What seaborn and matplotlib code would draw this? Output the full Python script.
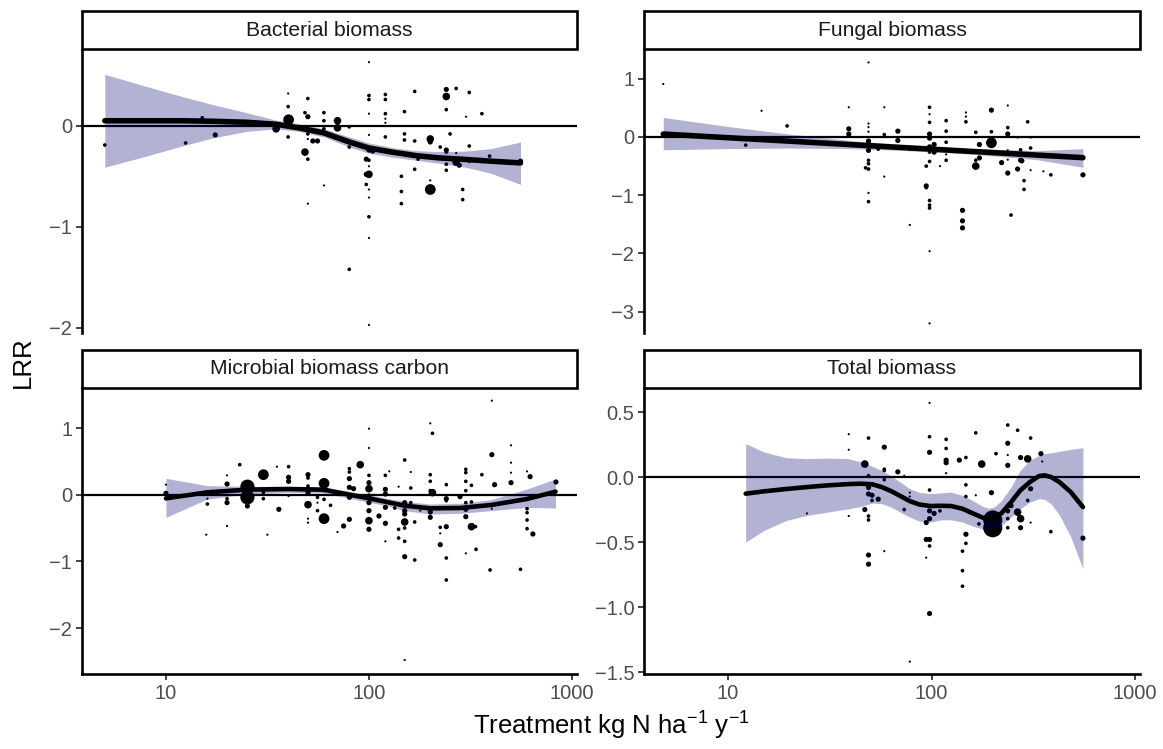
import matplotlib
matplotlib.use("Agg")
import matplotlib.pyplot as plt
from matplotlib.patches import Rectangle
from matplotlib.ticker import FixedLocator, NullLocator
import seaborn as sns
import pandas as pd

sns.set_style("white")
plt.rcParams['font.family'] = ['Liberation Sans', 'DejaVu Sans']
plt.rcParams['mathtext.fontset'] = 'custom'
plt.rcParams['mathtext.rm'] = 'Liberation Sans'
plt.rcParams['mathtext.it'] = 'Liberation Sans:italic'

# ---------------- data ----------------
panel_titles = ["Bacterial biomass", "Fungal biomass", "Microbial biomass carbon", "Total biomass"]
x_ticks = [10, 100, 1000]
x_tick_labels = ["10", "100", "1000"]

# Bacterial biomass
bact_x = [5.0, 12.5, 15.1, 17.5, 34.9, 40.2, 40, 40, 40, 48.4,
          50, 50, 48.4, 50, 50, 50, 52.9, 55.8, 60, 60,
          60, 60, 50, 70, 70, 80, 80, 80, 100, 100,
          100, 100, 100, 100, 104.4, 97, 100, 100, 100, 97,
          97, 100, 100, 100, 100, 100, 120.5, 120.5, 120.5, 120.5,
          120.5, 120.5, 144.5, 144.5, 144.5, 149.6, 149.6, 149.6, 168, 168,
          168, 174.5, 200.5, 200.5, 200.5, 200.5, 224.5, 240.5, 240.5, 240.5,
          240.5, 240.5, 240.5, 240.5, 251, 269, 269, 269, 278.6, 289.6,
          289.6, 301, 312, 312, 312, 360, 393, 558]
bact_y = [-0.19, -0.17, 0.08, -0.09, -0.03, 0.06, 0.32, 0.19, -0.11, 0.13,
          0.27, 0.09, -0.26, -0.33, -0.08, -0.13, -0.15, -0.15, 0.13, 0.05,
          -0.03, -0.59, -0.77, 0.05, -0.02, -0.01, -0.21, -1.42, 0.63, 0.30,
          0.26, 0.12, -0.09, -0.24, -0.25, -0.33, -0.34, -0.40, -0.48, -0.48,
          -0.58, -0.63, -0.71, -0.90, -1.11, -1.97, 0.31, 0.26, 0.12, 0.07,
          0.03, -0.11, -0.50, -0.65, -0.77, 0.14, -0.08, -0.14, 0.34, -0.15,
          -0.43, -0.33, -0.13, -0.16, -0.54, -0.63, -0.21, 0.36, 0.29, 0.16,
          -0.24, -0.26, -0.38, -0.44, -0.08, 0.37, -0.27, -0.36, -0.39, -0.63,
          -0.73, 0.09, 0.33, -0.20, -0.36, 0.12, -0.30, -0.35]
bact_w = [2, 2, 2, 3, 4, 5, 1, 2, 2, 2,
          2, 3, 4, 2, 2, 1, 3, 3, 2, 2,
          2, 1, 1, 4, 4, 2, 2, 2, 1, 2,
          2, 1, 1, 3, 3, 3, 2, 1, 4, 3,
          2, 1, 1, 2, 1, 1, 2, 2, 2, 1,
          1, 2, 2, 2, 2, 2, 2, 2, 2, 2,
          2, 2, 4, 3, 1, 5, 2, 3, 4, 2,
          3, 2, 2, 2, 2, 2, 1, 4, 3, 2,
          2, 1, 2, 2, 1, 2, 2, 3]
bact_fit_x = [5, 8, 12, 17, 25, 35, 45, 60, 80, 100, 130, 170, 220, 300, 400, 558]
bact_fit = [0.05, 0.05, 0.05, 0.045, 0.035, 0.015, -0.02, -0.07, -0.16, -0.22,
            -0.26, -0.295, -0.317, -0.333, -0.35, -0.367]
bact_hi = [0.51, 0.39, 0.29, 0.21, 0.13, 0.055, 0.02, -0.03, -0.11, -0.17,
           -0.215, -0.245, -0.255, -0.25, -0.225, -0.16]
bact_lo = [-0.41, -0.30, -0.20, -0.12, -0.055, -0.03, -0.055, -0.11, -0.21, -0.27,
           -0.31, -0.34, -0.37, -0.41, -0.47, -0.58]

# Fungal biomass
fung_x = [4.8, 12.2, 14.6, 17.0, 19.5, 39.2, 39.2, 39.2, 49, 49,
          49, 49, 49, 49, 49, 49, 47.4, 49, 49, 49,
          54.7, 58.6, 58.6, 58.6, 68.3, 68.3, 78.2, 78.2, 94.2, 94.2,
          94.2, 97.8, 97.8, 97.8, 97.8, 97.8, 97.8, 97.8, 97.8, 97.8,
          97.8, 97.8, 97.8, 97.8, 103, 103, 110, 118, 118, 118,
          118, 118, 142, 142, 142, 147.6, 147.6, 147.6, 165, 165,
          165, 172, 172, 197, 197, 197, 221, 237, 237, 237,
          237, 237, 237, 246, 265, 265, 274, 274, 278, 285,
          285, 297, 307, 307, 307, 355, 386, 555]
fung_y = [0.91, -0.14, 0.45, -0.06, 0.19, 0.51, 0.14, 0.05, 1.28, 0.23,
          0.17, 0.09, -0.07, -0.23, -0.40, -0.46, -0.53, -0.55, -0.96, -1.11,
          -0.21, 0.51, 0.04, -0.68, 0.10, -0.06, -0.22, -1.51, -0.50, -0.84,
          -0.87, 0.51, 0.39, 0.25, 0.05, -0.02, -0.17, -0.26, -0.42, -1.09,
          -1.17, -1.22, -1.96, -3.20, -0.13, -0.26, -0.50, 0.28, 0.10, -0.09,
          -0.30, -0.40, -1.26, -1.44, -1.56, 0.42, 0.35, 0.26, 0.08, -0.40,
          -0.50, -0.13, -0.36, 0.46, 0.09, -0.10, -0.44, 0.54, 0.16, 0.05,
          -0.23, -0.39, -0.62, -1.34, -0.01, -0.55, -0.22, -0.40, -0.41, -0.75,
          -0.90, 0.26, -0.01, -0.19, -0.57, -0.59, -0.65, -0.65]
fung_w = [1, 2, 1, 3, 2, 1, 3, 3, 1, 1,
          1, 1, 3, 3, 2, 2, 2, 2, 1, 2,
          2, 1, 2, 1, 3, 3, 1, 1, 2, 3,
          2, 2, 1, 2, 3, 3, 3, 2, 2, 2,
          2, 2, 1, 1, 3, 3, 1, 2, 2, 2,
          1, 2, 3, 3, 3, 1, 1, 2, 2, 2,
          4, 3, 3, 3, 2, 5, 3, 1, 2, 3,
          1, 1, 3, 2, 1, 3, 2, 3, 3, 2,
          2, 2, 1, 2, 1, 1, 2, 3]
fung_fit_x = [4.8, 10, 20, 40, 70, 100, 150, 220, 330, 555]
fung_fit = [0.05, -0.013, -0.072, -0.131, -0.179, -0.209, -0.244, -0.276, -0.311, -0.355]
fung_hi = [0.335, 0.18, 0.05, -0.06, -0.13, -0.165, -0.195, -0.215, -0.235, -0.20]
fung_lo = [-0.22, -0.20, -0.19, -0.20, -0.23, -0.255, -0.29, -0.335, -0.39, -0.52]

# Microbial biomass carbon
mbc_x = [10, 10, 15.8, 16, 16, 20, 20, 20, 20, 20,
         23.1, 25.2, 25.2, 25.2, 25.2, 30.2, 30.2, 30.2, 31.6, 35.2,
         36, 40.2, 40.2, 40.2, 40.2, 50.1, 50.1, 50.1, 50.1, 50.1,
         50.1, 50.1, 55.8, 55.8, 55.8, 60.1, 60.1, 60.1, 60.1, 60.1,
         64.7, 70, 75, 80.1, 80.1, 80.1, 80.1, 80.1, 80.1, 84,
         90.6, 100, 100, 100, 100, 100, 100, 100, 100, 100,
         100, 112, 120.5, 120.5, 120.5, 120.5, 120.5, 120.5, 126, 134,
         140, 140, 140, 150, 150, 150, 150, 150, 150, 150,
         150, 150, 160.7, 160.7, 160.7, 168, 168, 179, 200.5, 205.5,
         200.5, 200.5, 200.5, 205.5, 200.5, 200.5, 224.5, 224.5, 224.5, 240.5,
         240.5, 240.5, 240.5, 240.5, 240.5, 281, 300, 300, 300, 300,
         300, 300, 300, 300, 320, 320, 320, 335, 337, 360,
         395, 403, 403, 403, 416, 501, 501, 501, 501, 558,
         601, 601, 601, 601, 601, 622, 642, 834]
mbc_y = [0.15, 0.02, -0.60, -0.14, -0.06, 0.29, 0.16, -0.12, -0.06, -0.47,
         0.45, 0.12, -0.04, 0.04, -0.17, 0.30, -0.06, 0.03, -0.60, 0.42,
         -0.22, 0.42, 0.26, 0.20, -0.02, 0.30, 0.25, 0.13, 0.03, -0.15,
         -0.36, -0.42, -0.04, -0.24, -0.12, 0.59, 0.17, -0.36, 0.06, -0.07,
         -0.16, -0.56, -0.47, 0.39, 0.34, 0.24, 0.11, -0.04, -0.37, 0.09,
         0.45, 0.99, 0.70, 0.29, 0.18, 0.09, -0.02, -0.12, -0.24, -0.39,
         -0.52, -0.32, 0.29, 0.08, 0.01, -0.19, -0.43, -0.70, 0.35, -0.20,
         0.12, -0.52, -0.65, 0.52, -0.12, -0.24, -0.29, -0.41, -0.50, -0.70,
         -0.93, -2.48, 0.34, 0.10, -0.12, -0.41, -0.98, -0.24, 1.07, 0.92,
         0.30, 0.20, 0.06, 0.03, -0.26, -0.34, -0.49, -0.58, -0.75, 0.15,
         -0.06, -0.09, -0.48, -0.95, -1.28, -0.03, 0.38, 0.33, 0.20, 0.06,
         -0.12, -0.22, -0.33, -0.88, 0.14, -0.11, -0.48, -0.48, -0.82, 0.30,
         -1.13, 1.41, 0.60, -0.21, 0.15, 0.74, 0.48, 0.33, 0.18, -1.12,
         0.35, -0.21, -0.27, -0.38, -0.51, 0.27, -0.59, 0.19]
mbc_w = [1, 3, 1, 2, 1, 1, 3, 3, 2, 1,
         2, 6, 6, 4, 3, 5, 2, 2, 1, 1,
         3, 2, 3, 3, 1, 3, 2, 2, 3, 4,
         1, 1, 2, 2, 1, 5, 5, 5, 2, 2,
         2, 1, 3, 2, 2, 3, 3, 3, 3, 3,
         4, 1, 1, 2, 3, 4, 3, 3, 3, 4,
         3, 3, 2, 3, 3, 3, 3, 1, 1, 2,
         1, 2, 2, 2, 3, 3, 3, 4, 2, 2,
         3, 1, 1, 2, 2, 2, 2, 1, 1, 2,
         2, 2, 2, 4, 3, 3, 2, 1, 3, 2,
         3, 2, 3, 2, 2, 3, 2, 2, 2, 2,
         2, 3, 3, 1, 2, 2, 4, 2, 2, 2,
         2, 1, 3, 1, 3, 1, 1, 1, 3, 2,
         1, 2, 2, 2, 2, 3, 3, 3]
mbc_fit_x = [10, 16, 25, 40, 60, 80, 100, 120, 150, 200, 280, 400, 600, 830]
mbc_fit = [-0.055, 0.035, 0.075, 0.085, 0.075, 0.0, -0.055, -0.105, -0.165, -0.205,
           -0.20, -0.155, -0.065, 0.045]
mbc_hi = [0.245, 0.135, 0.125, 0.125, 0.11, 0.05, -0.005, -0.05, -0.10, -0.14,
          -0.13, -0.075, 0.085, 0.235]
mbc_lo = [-0.34, -0.065, 0.01, 0.035, 0.025, -0.055, -0.115, -0.16, -0.24, -0.29,
          -0.28, -0.24, -0.19, -0.20]

# Total biomass
tot_x = [12.2, 24.4, 39.2, 39.2, 39.2, 47, 47, 49, 49, 49,
         49, 49, 49, 49, 49, 51, 51, 54.7, 58.6, 58.6,
         58.6, 58.6, 58.6, 68.3, 73.4, 73.4, 78.2, 78.2, 78.2, 94.2,
         94.2, 94.2, 97.8, 97.8, 97.8, 97.8, 97.8, 97.8, 97.8, 97.8,
         97.8, 103, 110, 118, 118, 118, 118, 118, 137, 142,
         142, 142, 147.6, 147.6, 147.6, 147.6, 147.6, 165, 165, 176.6,
         171, 197, 200, 200, 207.5, 237, 237, 237, 237, 237,
         237, 237, 246, 265, 265, 274, 274, 274, 297, 297,
         307, 307, 307, 345, 350, 386, 555]
tot_y = [-0.13, -0.28, 0.33, 0.21, -0.30, 0.10, -0.25, 0.30, 0.01, -0.08,
         -0.13, -0.30, -0.33, -0.60, -0.67, -0.14, -0.18, -0.17, 0.23, 0.06,
         0.05, -0.02, -0.57, 0.04, 0.01, -0.25, -0.12, -0.15, -1.42, -0.35,
         -0.48, -0.62, 0.57, 0.31, 0.19, -0.10, -0.26, -0.32, -0.48, -0.53,
         -1.05, -0.28, -0.26, 0.29, 0.22, 0.13, 0.11, 0.03, 0.13, -0.57,
         -0.72, -0.84, 0.15, -0.06, -0.15, -0.44, -0.51, 0.34, -0.14, 0.10,
         -0.36, -0.12, -0.33, -0.39, 0.18, 0.40, 0.26, 0.17, 0.09, -0.26,
         -0.32, -0.39, -0.22, 0.36, -0.27, 0.15, -0.32, -0.39, 0.14, -0.18,
         0.30, -0.09, -0.35, 0.18, 0.12, -0.42, -0.47]
tot_w = [1, 1, 1, 1, 1, 4, 3, 2, 2, 3,
         3, 2, 2, 3, 3, 3, 2, 3, 3, 2,
         2, 2, 1, 3, 1, 2, 1, 1, 1, 3,
         3, 1, 1, 2, 3, 2, 3, 3, 3, 2,
         3, 3, 2, 2, 2, 3, 3, 1, 3, 2,
         2, 2, 2, 2, 2, 3, 2, 2, 1, 4,
         2, 3, 7, 7, 2, 2, 3, 1, 3, 3,
         2, 2, 3, 2, 4, 3, 4, 3, 4, 2,
         2, 3, 1, 3, 1, 2, 3]
tot_fit_x = [12.2, 15.0, 19.3, 24.4, 30.8, 39.2, 45.1, 51.2, 56.9, 63.3,
             70.3, 78.2, 86.9, 98.7, 112, 125, 142, 161, 179, 190.5,
             203, 221, 246, 273, 304, 338, 360, 387, 426, 484, 555]
tot_fit = [-0.128, -0.110, -0.092, -0.077, -0.064, -0.054, -0.051, -0.056, -0.077, -0.108,
           -0.146, -0.185, -0.211, -0.223, -0.221, -0.223, -0.244, -0.282, -0.313, -0.323,
           -0.316, -0.277, -0.193, -0.103, -0.039, 0.008, 0.013, 0.0, -0.039, -0.116, -0.231]
tot_hi = [0.257, 0.193, 0.149, 0.141, 0.146, 0.141, 0.116, 0.082, 0.051, 0.008,
          -0.039, -0.090, -0.118, -0.128, -0.121, -0.116, -0.141, -0.185, -0.226, -0.239,
          -0.231, -0.180, -0.077, 0.051, 0.128, 0.167, 0.180, 0.187, 0.198, 0.213, 0.226]
tot_lo = [-0.500, -0.411, -0.334, -0.295, -0.270, -0.244, -0.226, -0.200, -0.205, -0.231,
          -0.270, -0.308, -0.339, -0.347, -0.329, -0.329, -0.347, -0.380, -0.400, -0.406,
          -0.398, -0.372, -0.308, -0.244, -0.193, -0.167, -0.172, -0.205, -0.295, -0.462, -0.706]

# ---------------- drawing ----------------
W, H = 1163, 749
fig = plt.figure(figsize=(W / 100, H / 100), dpi=100)

def fx(px):
    return px / W

def fy(py):
    return 1 - py / H

pos = [
    (fx(82), fy(333), fx(495), 284 / H),
    (fx(644), fy(333), fx(496), 284 / H),
    (fx(82), fy(674), fx(495), 286 / H),
    (fx(644), fy(674), fx(496), 286 / H),
]
ylims = [(-2.05, 0.76), (-3.365, 1.51), (-2.69, 1.60), (-1.515, 0.685)]
yticks = [[-2, -1, 0], [-3, -2, -1, 0, 1], [-2, -1, 0, 1], [-1.5, -1.0, -0.5, 0.0, 0.5]]
yfmt = ["{:.0f}", "{:.0f}", "{:.0f}", "{:.1f}"]

points = [(bact_x, bact_y, bact_w), (fung_x, fung_y, fung_w),
          (mbc_x, mbc_y, mbc_w), (tot_x, tot_y, tot_w)]
fits = [(bact_fit_x, bact_fit, bact_lo, bact_hi), (fung_fit_x, fung_fit, fung_lo, fung_hi),
        (mbc_fit_x, mbc_fit, mbc_lo, mbc_hi), (tot_fit_x, tot_fit, tot_lo, tot_hi)]
line_w = [4.0, 4.0, 3.3, 3.3]

size_map = {1: 2.5, 2: 7, 3: 14, 4: 30, 5: 60, 6: 105, 7: 190}
ribbon_col = (2 / 255, 5 / 255, 112 / 255)

for i in range(4):
    ax = fig.add_axes(pos[i])
    ax.set_xscale('log')
    px, py, pw = points[i]
    df = pd.DataFrame({"x": px, "y": py, "w": pw})
    ax.axhline(0, color='black', lw=1.6, zorder=1)
    sns.scatterplot(data=df, x="x", y="y", size="w", sizes=size_map, color='black',
                    linewidth=0, legend=False, ax=ax, zorder=2)
    fxs, fit, lo, hi = fits[i]
    ax.fill_between(fxs, lo, hi, color=ribbon_col, alpha=0.3, lw=0, zorder=3)
    sns.lineplot(x=fxs, y=fit, color='black', lw=line_w[i], estimator=None, sort=False,
                 ax=ax, zorder=4)
    ax.set_xlim(3.86, 1059)
    ax.set_ylim(*ylims[i])
    ax.set_xlabel("")
    ax.set_ylabel("")
    for s in ['top', 'right']:
        ax.spines[s].set_visible(False)
    ax.spines['left'].set_linewidth(1.9)
    ax.spines['left'].set_color('black')
    ax.yaxis.set_major_locator(FixedLocator(yticks[i]))
    ax.set_yticklabels([yfmt[i].format(v).replace('-', '\u2212') for v in yticks[i]])
    ax.xaxis.set_minor_locator(NullLocator())
    ax.tick_params(axis='y', which='major', length=4, width=1.3, color='#333333',
                   labelsize=14.5, labelcolor='#4D4D4D', pad=3, left=True)
    if i < 2:
        ax.spines['bottom'].set_visible(False)
        ax.set_xticks([])
    else:
        ax.spines['bottom'].set_linewidth(1.9)
        ax.spines['bottom'].set_color('black')
        ax.xaxis.set_major_locator(FixedLocator(x_ticks))
        ax.set_xticklabels(x_tick_labels)
        ax.tick_params(axis='x', which='major', length=4, width=1.3, color='#333333',
                       labelsize=14.5, labelcolor='#4D4D4D', pad=3, bottom=True)
    # facet strip
    h_ax = pos[i][3] * H
    sh = 38 / h_ax
    rect = Rectangle((0, 1), 1, sh, transform=ax.transAxes, facecolor='white',
                     edgecolor='black', lw=1.9, clip_on=False, zorder=5)
    ax.add_patch(rect)
    ax.text(0.5, 1 + sh / 2, panel_titles[i], transform=ax.transAxes, ha='center',
            va='center', fontsize=15.2, color='#1A1A1A', zorder=6)

fig.text(fx(611), fy(726), r"Treatment kg N ha$^{-1}$ y$^{-1}$", ha='center', va='center',
         fontsize=18.5, color='black')
fig.text(fx(23), fy(362), "LRR", ha='center', va='center', rotation=90,
         fontsize=18.5, color='black')

fig.savefig("out.png", dpi=100)
